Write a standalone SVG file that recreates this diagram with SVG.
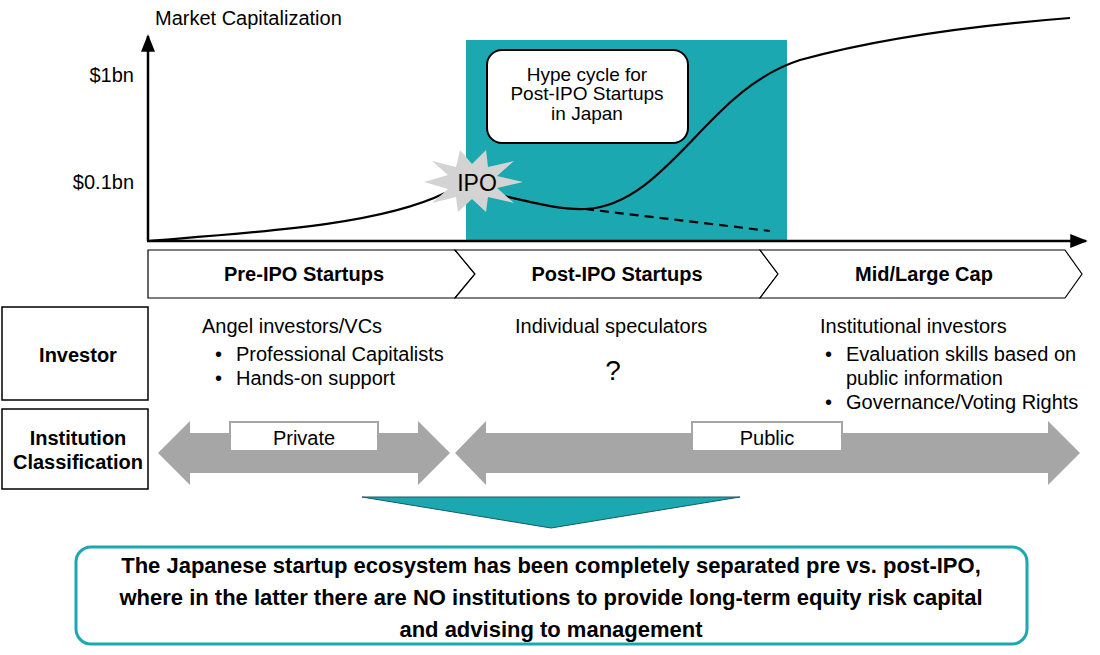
<svg xmlns="http://www.w3.org/2000/svg" width="1100" height="655" viewBox="0 0 1100 655">
<style>
text{font-family:"Liberation Sans",Arial,sans-serif;fill:#000}
.t17{font-size:20px}
.b17{font-size:20px;font-weight:bold}
.hy{font-size:19px}
.box{fill:#fff;stroke:#000;stroke-width:1.5}
.garrow{fill:#a6a6a6}
.lbl{fill:#fff;stroke:#a6a6a6;stroke-width:2}
.bot{font-size:22px;font-weight:bold}
</style>
<defs>
<marker id="ah" viewBox="0 0 10 10" refX="9" refY="5" markerWidth="7" markerHeight="7" orient="auto"><path d="M0,1 L10,5 L0,9 z" fill="#000"/></marker>
</defs>
<rect id="hype-area" x="466" y="40" width="321" height="201" fill="#1ba8b1"/>
<g id="axes" fill="none" stroke="#000" stroke-width="2.5">
<line x1="148" y1="241" x2="148" y2="36" marker-end="url(#ah)"/>
<line x1="147" y1="241" x2="1086" y2="241" marker-end="url(#ah)"/>
</g>
<text class="t17" x="155" y="25">Market Capitalization</text>
<text class="t17" x="134" y="82" text-anchor="end">$1bn</text>
<text class="t17" x="134" y="189" text-anchor="end">$0.1bn</text>
<g id="curves" fill="none" stroke="#000" stroke-width="2.2">
<path d="M148,241 C260,232 380,225 445,193"/>
<path d="M500,195 C535,203 560,210 585,209 C640,207 680,150 720,112 C750,82 775,68 800,60 C880,38 980,25 1070,18"/>
<path d="M585,209 L770,231" stroke-dasharray="9,6"/>
</g>
<g id="ipo">
<polygon fill="#d3d3d3" points="523,182 497,188 514,203 488,197 486,212 472,199 458,212 456,197 432,203 448,189 424,182 448,175 432,161 456,167 460,150 472,164 486,150 488,167 514,161 497,176"/>
<text x="477" y="191" font-size="23" text-anchor="middle">IPO</text>
</g>
<g id="hype-box">
<rect x="487" y="50" width="201" height="93" rx="15" fill="#fff" stroke="#000" stroke-width="2"/>
<text class="hy" x="587" y="81" text-anchor="middle">Hype cycle for</text>
<text class="hy" x="587" y="100" text-anchor="middle">Post-IPO Startups</text>
<text class="hy" x="587" y="120" text-anchor="middle">in Japan</text>
</g>
<g id="stages" fill="#fff" stroke="#000" stroke-width="1.2">
<path d="M148,250 L455,250 L475,274 L455,298 L148,298 Z"/>
<path d="M455,250 L760,250 L778,274 L760,298 L455,298 L475,274 Z"/>
<path d="M760,250 L1065,250 L1082,274 L1065,298 L760,298 L778,274 Z"/>
</g>
<text class="b17" x="304" y="281" text-anchor="middle">Pre-IPO Startups</text>
<text class="b17" x="617" y="281" text-anchor="middle">Post-IPO Startups</text>
<text class="b17" x="924" y="281" text-anchor="middle">Mid/Large Cap</text>
<g id="investor"><rect class="box" x="2" y="307" width="146" height="93"/><text class="b17" x="78" y="362" text-anchor="middle">Investor</text></g>
<g id="institution"><rect class="box" x="2" y="409" width="146" height="80"/><text class="b17" x="78" y="445" text-anchor="middle">Institution</text><text class="b17" x="78" y="469" text-anchor="middle">Classification</text></g>
<g id="pre-investors">
<text class="t17" x="202" y="333">Angel investors/VCs</text>
<text class="t17" x="215" y="361">•</text><text class="t17" x="236" y="361">Professional Capitalists</text>
<text class="t17" x="215" y="385">•</text><text class="t17" x="236" y="385">Hands-on support</text>
</g>
<g id="post-investors">
<text class="t17" x="515" y="333">Individual speculators</text>
<text x="613" y="380" font-size="28" text-anchor="middle">?</text>
</g>
<g id="mid-investors">
<text class="t17" x="820" y="333">Institutional investors</text>
<text class="t17" x="825" y="361">•</text><text class="t17" x="846" y="361">Evaluation skills based on</text>
<text class="t17" x="846" y="385">public information</text>
<text class="t17" x="825" y="409">•</text><text class="t17" x="846" y="409">Governance/Voting Rights</text>
</g>
<g id="private">
<polygon class="garrow" points="158,453 190,421 190,433 418,433 418,421 450,453 418,485 418,473 190,473 190,485"/>
<rect class="lbl" x="230" y="422" width="148" height="29"/>
<text class="t17" x="304" y="445" text-anchor="middle">Private</text>
</g>
<g id="public">
<polygon class="garrow" points="455,453 486,421 486,433 1048,433 1048,421 1080,453 1048,485 1048,473 486,473 486,485"/>
<rect class="lbl" x="692" y="422" width="150" height="29"/>
<text class="t17" x="767" y="445" text-anchor="middle">Public</text>
</g>
<polygon id="down-arrow" points="362,497 740,497 551,528" fill="#1ba8b1" stroke="#1a5a60" stroke-width="1"/>
<g id="conclusion">
<rect x="76" y="547" width="951" height="97" rx="15" fill="#fff" stroke="#1ba8b1" stroke-width="3"/>
<text class="bot" x="551" y="573" text-anchor="middle">The Japanese startup ecosystem has been completely separated pre vs. post-IPO,</text>
<text class="bot" x="551" y="605" text-anchor="middle">where in the latter there are NO institutions to provide long-term equity risk capital</text>
<text class="bot" x="551" y="637" text-anchor="middle">and advising to management</text>
</g>
</svg>
